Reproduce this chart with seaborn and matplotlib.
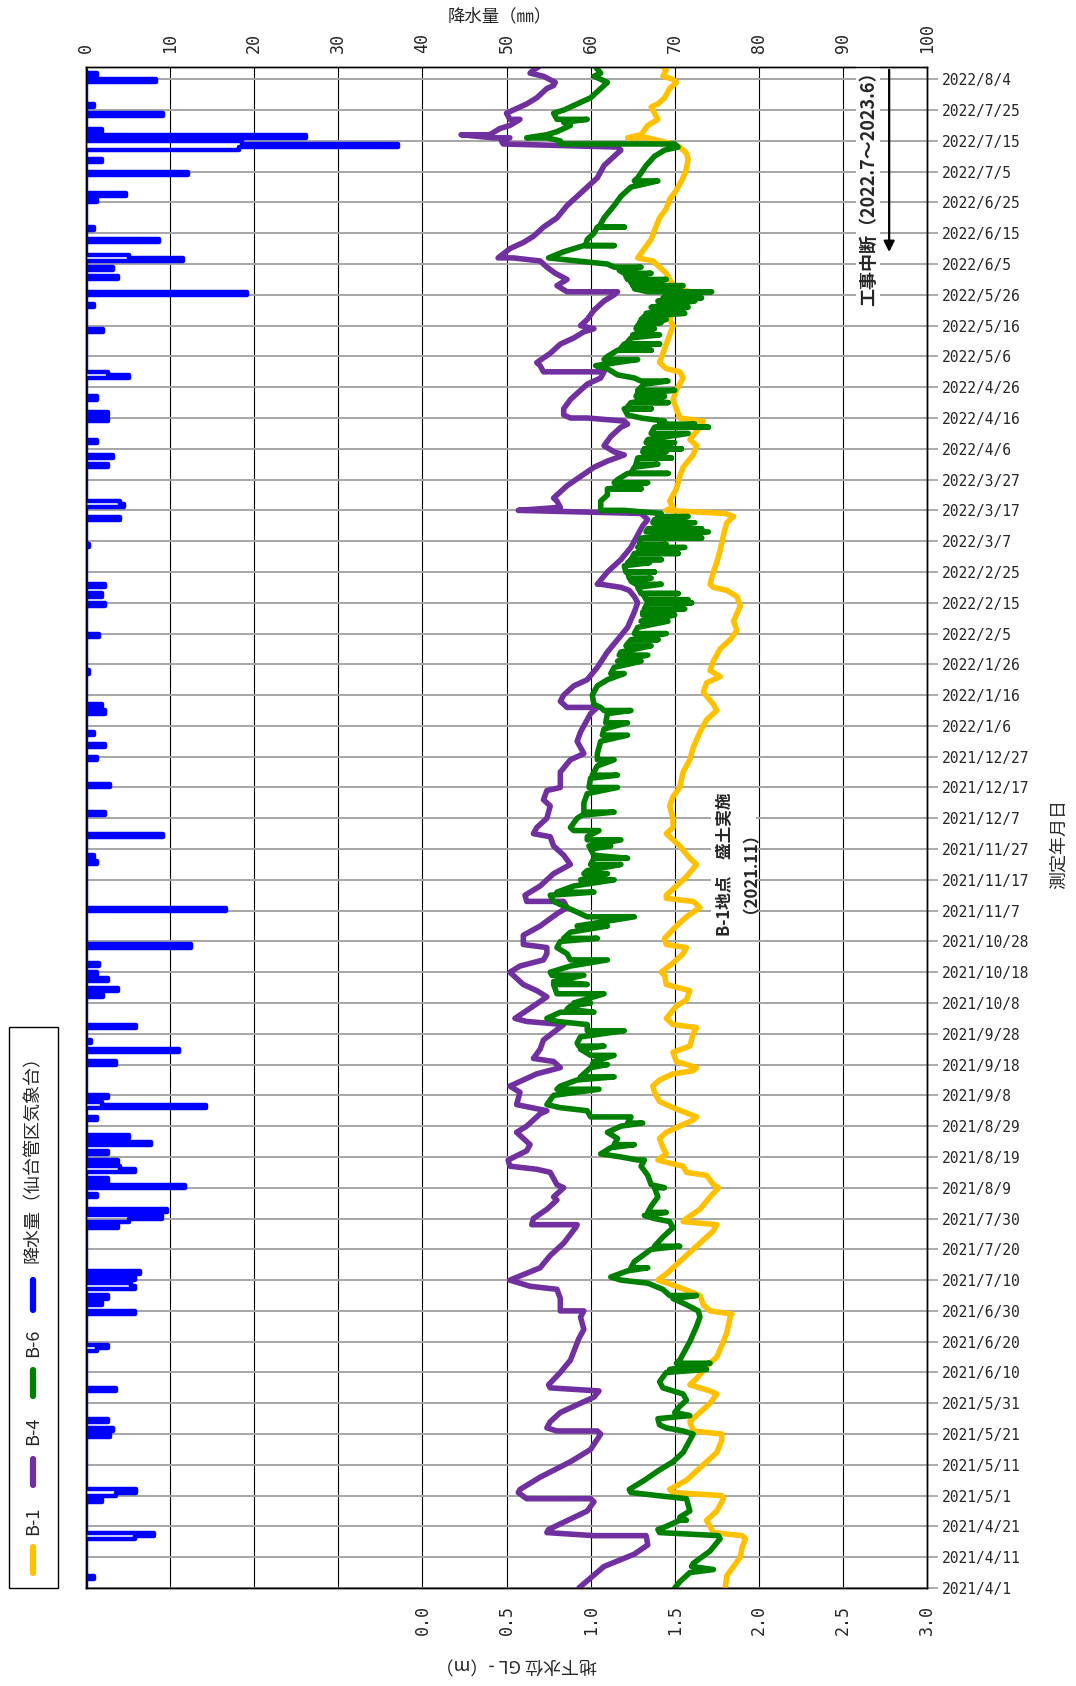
import numpy as np
import pandas as pd
import matplotlib
matplotlib.use("Agg")
import matplotlib.pyplot as plt
import matplotlib.dates as mdates
from matplotlib.lines import Line2D
from matplotlib.patches import Rectangle
import seaborn as sns

# ---------------- data (day = days after 2021/4/1) ----------------
START = "2021-04-01"

b1_points = [(0,1.80),(4,1.81),(7,1.85),(10,1.89),(13,1.90),(16,1.92),(17,1.90),(18,1.73),(20,1.71),(22,1.69),(25,1.75),(29,1.79),(30,1.78),(31,1.49),(32,1.47),(35,1.57),(40,1.67),(44,1.75),(48,1.78),(50,1.78),(51,1.61),(54,1.59),(57,1.65),(60,1.71),(63,1.75),(64,1.71),(66,1.59),(68,1.63),(72,1.69),(75,1.75),(80,1.79),(83,1.81),(88,1.83),(89,1.84),(90,1.71),(92,1.67),(95,1.65),(98,1.51),(100,1.40),(102,1.45),(104,1.49),(108,1.57),(112,1.65),(116,1.73),(118,1.75),(119,1.55),(120,1.57),(123,1.65),(127,1.71),(130,1.76),(131,1.73),(134,1.69),(135,1.57),(137,1.55),(138,1.47),(139,1.40),(141,1.45),(143,1.43),(146,1.41),(148,1.45),(152,1.61),(153,1.63),(156,1.49),(158,1.41),(161,1.38),(163,1.37),(165,1.41),(167,1.49),(168,1.61),(169,1.63),(171,1.51),(174,1.49),(176,1.59),(180,1.61),(182,1.63),(183,1.49),(185,1.45),(189,1.51),(191,1.57),(194,1.59),(196,1.45),(199,1.44),(200,1.42),(203,1.49),(206,1.55),(208,1.57),(209,1.45),(211,1.44),(215,1.51),(218,1.57),(221,1.65),(223,1.61),(224,1.45),(225,1.45),(228,1.51),(231,1.57),(235,1.63),(237,1.59),(241,1.53),(243,1.49),(245,1.45),(247,1.49),(250,1.49),(254,1.47),(257,1.49),(260,1.53),(265,1.55),(269,1.59),(273,1.61),(278,1.65),(282,1.69),(285,1.75),(287,1.73),(291,1.67),(294,1.69),(296,1.77),(298,1.71),(301,1.73),(305,1.77),(308,1.83),(311,1.87),(314,1.85),(319,1.89),(322,1.87),(324,1.81),(325,1.73),(326,1.71),(330,1.73),(333,1.75),(337,1.77),(342,1.79),(346,1.81),(348,1.85),(349,1.80),(350,1.45),(351,1.49),(353,1.47),(357,1.51),(361,1.53),(364,1.55),(368,1.61),(371,1.63),(373,1.59),(377,1.65),(379,1.67),(380,1.53),(383,1.51),(386,1.49),(389,1.51),(393,1.55),(395,1.53),(396,1.45),(398,1.41),(401,1.43),(404,1.45),(407,1.47),(410,1.49),(412,1.47),(415,1.49),(417,1.51),(419,1.55),(421,1.59),(422,1.53),(423,1.49),(425,1.47),(427,1.45),(429,1.41),(431,1.37),(432,1.28),(435,1.32),(438,1.36),(441,1.38),(445,1.41),(448,1.45),(451,1.47),(454,1.51),(458,1.55),(461,1.57),(464,1.58),(466,1.57),(468,1.53),(469,1.49),(470,1.41),(471,1.34),(471,1.22),(472,1.30),(475,1.34),(477,1.40),(479,1.38),(481,1.36),(482,1.40),(484,1.44),(487,1.47),(489,1.51),(490,1.49),(491,1.43),(493,1.45),(494,1.43)]

b4_points = [(0,0.93),(7,1.08),(11,1.26),(14,1.34),(17,1.33),(17,1.02),(18,0.74),(19,0.75),(25,0.98),(28,1.02),(29,1.00),(29,0.62),(31,0.57),(32,0.58),(36,0.70),(41,0.88),(45,1.00),(50,1.06),(51,1.04),(51,0.80),(52,0.74),(54,0.76),(57,0.82),(60,0.94),(62,1.02),(64,1.05),(65,0.76),(66,0.75),(70,0.82),(74,0.88),(81,0.93),(84,0.96),(88,0.94),(90,0.96),(90,0.82),(94,0.82),(97,0.80),(98,0.64),(100,0.52),(104,0.70),(108,0.76),(112,0.84),(117,0.91),(118,0.92),(118,0.65),(120,0.66),(123,0.74),(126,0.80),(127,0.78),(130,0.84),(131,0.80),(135,0.76),(136,0.68),(137,0.52),(139,0.51),(142,0.62),(144,0.64),(148,0.56),(150,0.62),(154,0.70),(155,0.74),(157,0.56),(161,0.58),(163,0.52),(167,0.68),(169,0.82),(171,0.78),(172,0.66),(175,0.70),(178,0.72),(183,0.84),(184,0.62),(185,0.55),(189,0.66),(192,0.74),(194,0.68),(196,0.60),(200,0.52),(202,0.58),(204,0.72),(206,0.74),(208,0.74),(209,0.60),(212,0.60),(215,0.70),(219,0.80),(221,0.86),(223,0.84),(223,0.62),(225,0.61),(228,0.70),(232,0.78),(235,0.88),(238,0.84),(241,0.78),(244,0.76),(245,0.66),(247,0.68),(250,0.74),(254,0.76),(256,0.72),(259,0.74),(260,0.82),(265,0.82),(269,0.88),(271,0.96),(273,0.94),(275,0.92),(278,0.94),(280,0.96),(284,1.00),(285,1.02),(286,1.04),(286,0.86),(288,0.82),(290,0.84),(293,0.90),(295,0.98),(299,1.04),(304,1.10),(308,1.16),(312,1.22),(317,1.26),(320,1.28),(322,1.26),(324,1.23),(325,1.18),(326,1.06),(326,1.04),(330,1.10),(334,1.18),(338,1.24),(342,1.28),(345,1.31),(347,1.34),(349,1.30),(350,0.57),(351,0.82),(353,0.80),(354,0.78),(358,0.86),(361,0.94),(364,1.02),(366,1.10),(368,1.20),(369,1.14),(371,1.08),(374,1.12),(377,1.18),(378,1.22),(379,1.20),(380,0.98),(380,0.88),(381,0.84),(383,0.84),(386,0.88),(388,0.92),(391,0.98),(393,1.06),(395,1.08),(395,0.72),(397,0.70),(398,0.68),(401,0.76),(404,0.82),(406,0.90),(408,0.96),(409,1.02),(410,0.94),(412,0.98),(415,1.02),(418,1.08),(420,1.14),(421,1.16),(421,0.86),(423,0.80),(425,0.86),(427,0.79),(429,0.74),(431,0.70),(432,0.54),(432,0.45),(435,0.52),(437,0.60),(439,0.66),(442,0.72),(445,0.80),(449,0.86),(452,0.92),(455,0.98),(458,1.04),(462,1.08),(465,1.14),(467,1.18),(468,1.16),(469,0.48),(470,0.47),(471,0.52),(471,0.42),(472,0.23),(472,0.40),(474,0.46),(475,0.52),(477,0.58),(477,0.52),(479,0.50),(480,0.54),(482,0.62),(484,0.68),(487,0.74),(488,0.78),(489,0.79),(491,0.72),(492,0.64),(493,0.66),(494,0.69)]

b6_points = [(0,1.50),(2,1.53),(5,1.59),(6,1.73),(7,1.60),(8,1.61),(12,1.71),(16,1.77),(17,1.76),(18,1.41),(19,1.40),(20,1.45),(22,1.53),(22,1.57),(23,1.53),(25,1.59),(29,1.57),(30,1.40),(31,1.24),(32,1.23),(35,1.32),(38,1.40),(41,1.49),(44,1.55),(48,1.59),(50,1.61),(51,1.55),(52,1.45),(53,1.41),(55,1.40),(56,1.59),(57,1.50),(59,1.53),(61,1.57),(63,1.55),(65,1.43),(67,1.41),(70,1.45),(71,1.69),(71,1.47),(73,1.71),(73,1.51),(74,1.53),(80,1.59),(85,1.63),(88,1.65),(90,1.64),(92,1.57),(94,1.49),(95,1.63),(95,1.47),(97,1.43),(99,1.34),(100,1.18),(101,1.12),(103,1.22),(104,1.34),(104,1.24),(106,1.26),(110,1.36),(111,1.53),(111,1.38),(114,1.43),(117,1.49),(119,1.47),(120,1.38),(121,1.32),(122,1.45),(122,1.34),(124,1.36),(127,1.40),(130,1.38),(130,1.44),(131,1.36),(134,1.34),(137,1.30),(139,1.32),(139,1.28),(140,1.18),(141,1.06),(143,1.12),(144,1.26),(144,1.14),(146,1.16),(148,1.10),(150,1.18),(151,1.31),(151,1.22),(153,1.24),(153,1.00),(155,0.98),(156,0.82),(157,0.74),(160,0.78),(162,1.05),(162,0.80),(163,0.82),(165,0.92),(166,1.14),(166,0.94),(169,1.00),(170,1.10),(170,1.01),(171,1.02),(173,1.14),(173,1.00),(175,0.94),(176,1.08),(176,0.93),(177,0.92),(179,0.94),(181,1.20),(181,0.98),(183,0.98),(184,0.80),(185,0.74),(187,0.82),(187,1.02),(188,0.86),(189,0.88),(190,1.00),(190,0.90),(193,1.08),(193,0.80),(196,0.78),(196,0.98),(197,0.78),(199,0.96),(199,0.77),(200,0.76),(202,0.88),(204,1.10),(204,0.88),(206,0.86),(208,0.80),(210,0.82),(211,1.04),(211,0.84),(213,0.88),(215,1.10),(215,0.92),(218,1.26),(218,0.98),(220,0.90),(223,0.78),(225,0.76),(226,1.02),(226,0.80),(228,0.90),(230,1.14),(230,0.94),(232,1.10),(232,0.96),(233,0.98),(235,1.18),(235,1.00),(237,1.02),(237,1.22),(238,1.02),(240,1.00),(241,1.12),(241,0.99),(243,1.18),(243,0.98),(244,0.98),(246,1.05),(246,0.90),(247,0.88),(250,0.92),(251,0.95),(252,1.14),(252,0.96),(255,0.96),(258,0.98),(260,1.16),(260,0.99),(263,1.00),(264,1.16),(264,1.01),(267,1.04),(269,1.14),(269,1.04),(271,1.04),(275,1.06),(277,1.22),(277,1.07),(279,1.08),(281,1.22),(281,1.09),(284,1.10),(285,1.24),(285,1.08),(286,1.06),(287,1.02),(290,1.01),(293,1.04),(295,1.10),(297,1.20),(297,1.12),(299,1.14),(301,1.30),(301,1.16),(303,1.34),(303,1.17),(304,1.18),(306,1.36),(306,1.21),(308,1.24),(308,1.40),(308,1.25),(310,1.45),(310,1.26),(312,1.28),(314,1.46),(314,1.30),(316,1.50),(316,1.31),(317,1.31),(318,1.56),(318,1.32),(320,1.34),(320,1.60),(320,1.34),(321,1.58),(321,1.33),(323,1.31),(323,1.52),(323,1.30),(325,1.28),(326,1.42),(326,1.27),(327,1.24),(328,1.36),(328,1.23),(330,1.22),(330,1.38),(330,1.21),(332,1.20),(333,1.35),(333,1.22),(334,1.24),(334,1.42),(334,1.24),(336,1.26),(336,1.52),(336,1.27),(338,1.56),(338,1.28),(339,1.45),(339,1.29),(341,1.30),(341,1.66),(341,1.32),(343,1.70),(343,1.33),(344,1.34),(344,1.66),(344,1.35),(346,1.62),(346,1.37),(347,1.38),(348,1.58),(348,1.40),(349,1.42),(350,1.20),(350,1.06),(353,1.06),(355,1.10),(357,1.10),(357,1.30),(357,1.11),(359,1.34),(359,1.14),(360,1.16),(362,1.22),(362,1.46),(362,1.24),(364,1.26),(365,1.40),(365,1.27),(367,1.28),(367,1.48),(367,1.29),(369,1.45),(369,1.31),(370,1.32),(370,1.54),(370,1.32),(372,1.50),(372,1.33),(373,1.34),(375,1.58),(375,1.36),(377,1.38),(377,1.70),(377,1.39),(378,1.62),(378,1.41),(379,1.44),(380,1.30),(381,1.22),(383,1.20),(383,1.36),(383,1.21),(385,1.24),(385,1.46),(385,1.25),(387,1.44),(387,1.27),(388,1.28),(389,1.50),(389,1.28),(391,1.32),(392,1.46),(392,1.30),(393,1.26),(394,1.16),(396,1.10),(397,1.03),(399,1.28),(399,1.08),(400,1.10),(402,1.16),(402,1.36),(402,1.17),(404,1.20),(404,1.41),(404,1.21),(406,1.24),(407,1.41),(407,1.25),(409,1.38),(409,1.27),(410,1.28),(411,1.42),(411,1.29),(412,1.45),(412,1.30),(413,1.32),(414,1.56),(414,1.33),(416,1.58),(416,1.36),(418,1.62),(418,1.40),(419,1.66),(419,1.43),(420,1.46),(421,1.72),(421,1.34),(422,1.26),(423,1.55),(423,1.25),(424,1.25),(424,1.42),(424,1.24),(425,1.45),(425,1.22),(426,1.21),(427,1.36),(427,1.20),(428,1.17),(429,1.30),(429,1.14),(430,1.10),(431,0.92),(432,0.75),(434,0.84),(436,0.96),(436,1.14),(436,0.97),(438,0.98),(440,1.02),(442,1.04),(442,1.20),(442,1.05),(445,1.08),(449,1.14),(452,1.18),(455,1.24),(457,1.40),(457,1.26),(458,1.28),(462,1.33),(465,1.38),(467,1.44),(468,1.52),(469,1.50),(469,0.82),(470,0.82),(471,0.74),(471,0.62),(472,0.74),(473,0.80),(475,0.88),(476,0.84),(477,0.98),(477,0.80),(479,0.78),(480,0.84),(482,0.92),(484,1.00),(487,1.06),(489,1.10),(490,1.06),(491,1.02),(492,1.06),(494,1.03)]

# daily precipitation (mm); days not listed had no rain
rain_points = [(4,1.0),(17,5.8),(18,8.1),(29,1.9),(31,3.6),(32,6.0),(50,2.8),(52,3.2),(55,2.6),(65,3.6),(78,1.3),(79,2.6),(90,5.8),(93,1.9),(95,2.6),(98,5.8),(99,5.4),(101,5.8),(103,6.4),(118,3.8),(120,5.1),(121,9.0),(123,9.6),(128,1.3),(131,11.8),(133,2.6),(136,5.8),(137,4.1),(139,3.8),(142,2.6),(145,7.7),(147,5.1),(153,1.3),(157,14.3),(158,1.9),(160,2.6),(171,3.6),(175,11.1),(178,0.6),(183,6.0),(193,2.0),(195,3.8),(198,2.6),(200,1.3),(203,1.5),(209,12.5),(221,16.6),(236,1.3),(238,1.0),(245,9.2),(252,2.2),(261,2.8),(270,1.3),(274,2.2),(278,0.9),(285,2.3),(287,1.9),(298,0.4),(310,1.5),(320,2.2),(323,1.9),(326,2.2),(339,0.4),(348,4.1),(352,4.5),(353,4.1),(365,2.6),(368,3.2),(373,1.3),(380,2.6),(382,2.6),(387,1.3),(394,5.1),(395,2.6),(409,2.0),(417,1.0),(421,19.2),(426,3.8),(429,3.2),(432,11.5),(433,5.1),(438,8.7),(442,0.9),(451,1.3),(453,4.7),(460,12.1),(464,1.9),(468,18.2),(469,37.1),(470,18.5),(472,26.2),(474,1.9),(479,9.2),(482,1.0),(490,8.3),(492,1.3)]

series_names = ["B-1", "B-4", "B-6"]
series_colors = ["#FFC000", "#7030A0", "#008000"]
rain_name = "降水量（仙台管区気象台）"
rain_color = "#0000FF"

precip_ticks = list(range(0, 101, 10))
gw_ticks = [0.0, 0.5, 1.0, 1.5, 2.0, 2.5, 3.0]
date_tick_start, date_tick_end = "2021-04-01", "2022-08-04"

# ---------------- style ----------------
sns.set_style("white")
plt.rcParams["font.family"] = ["Noto Sans CJK JP", "DejaVu Sans"]
MONO = ["DejaVu Sans Mono", "DejaVu Sans"]

base = pd.Timestamp(START)
def to_dates(days):
    return base + pd.to_timedelta(np.asarray(days, dtype=float), unit="D")
def ynum(d):
    return mdates.date2num(base + pd.Timedelta(days=d))

W, H = 1076, 1686
fig = plt.figure(figsize=(W / 100, H / 100), dpi=100)
ax = fig.add_axes([86 / W, 98 / H, 841 / W, 1521 / H])

# precipitation (daily values, drawn as a stepped line)
n_days = 494
rain_daily = np.zeros(n_days)
for d, v in rain_points:
    rain_daily[d] = v
rain_df = pd.DataFrame({"date": to_dates(np.arange(n_days)), "mm": rain_daily})
sns.lineplot(data=rain_df, x="mm", y="date", sort=False, estimator=None,
             color=rain_color, lw=3.2, drawstyle="steps-post", ax=ax, legend=False)
ax.set_xlim(0, 100)
ax.set_ylim(ynum(0), ynum(494))

ax2 = ax.twiny()
for pts, name, col in zip([b1_points, b4_points, b6_points], series_names, series_colors):
    days, lev = zip(*pts)
    df = pd.DataFrame({"date": to_dates(days), "level": lev})
    sns.lineplot(data=df, x="level", y="date", sort=False, estimator=None,
                 color=col, lw=4.0, ax=ax2, legend=False)
ax2.set_xlim(-2, 3)
ax.set_ylim(ynum(0), ynum(494))

# axes & ticks
ax.xaxis.tick_top()
ax.set_xticks(precip_ticks)
ax.set_xticklabels([str(v) for v in precip_ticks], rotation=90, fontsize=12, family=MONO)
ax.tick_params(axis="x", length=0, pad=10, top=True, bottom=False,
               labeltop=True, labelbottom=False)
ax2.xaxis.tick_bottom()
ax2.set_xticks(gw_ticks)
ax2.set_xticklabels([f"{v:.1f}" for v in gw_ticks], rotation=90, fontsize=12, family=MONO)
ax2.tick_params(axis="x", length=0, pad=12, top=False, bottom=True,
                labeltop=False, labelbottom=True)

ticks = pd.date_range(date_tick_start, date_tick_end, freq="10D")
ax.set_yticks(mdates.date2num(ticks.to_pydatetime()))
ax.set_yticklabels([f"{t.year}/{t.month}/{t.day}" for t in ticks], fontsize=10.5, family=MONO)
ax.yaxis.tick_right()
ax.tick_params(axis="y", length=8, width=1.3, color="#A6A6A6", pad=3,
               right=True, left=False)
ax.grid(axis="y", color="#A6A6A6", lw=1.4)
ax.grid(axis="x", color="black", lw=0.8)
for a in (ax, ax2):
    a.set_xlabel("")
    a.set_ylabel("")
    for s in a.spines.values():
        s.set_color("black")
        s.set_linewidth(1.0)

# annotations
ax.annotate("", xy=(95.5, ynum(433)), xytext=(95.5, ynum(494)),
            arrowprops=dict(arrowstyle="-|>", color="black", lw=1.6, mutation_scale=16),
            zorder=6)
ax.text(93.0, ynum(456), "工事中断（2022.7～2023.6）", rotation=90, ha="center",
        va="center", fontsize=13, fontweight="bold", zorder=6,
        bbox=dict(fc="white", ec="none", pad=2))
ax.text(77.0, ynum(235), "B-1地点　盛土実施\n（2021.11）", rotation=90, ha="center",
        va="center", ma="center", fontsize=12, fontweight="bold", linespacing=1.0,
        zorder=6, bbox=dict(fc="white", ec="none", pad=3))

# titles
fig.text(500 / W, 1 - 16 / H, "降水量（㎜）", ha="center", va="center", fontsize=12.5)
fig.text(516 / W, 1 - 1664 / H, "地下水位 GL -（m）", ha="center", va="center",
         rotation=180, fontsize=13)
fig.text(1059 / W, 1 - 844 / H, "測定年月日", ha="center", va="center",
         rotation=90, fontsize=13)

# legend (rotated, drawn by hand)
fig.add_artist(Rectangle((8.6 / W, 98 / H), 49.4 / W, 561 / H, transform=fig.transFigure,
                         fill=False, ec="black", lw=1.0))
leg_x = 33 / W
leg_entries = [
    (series_names[0], series_colors[0], (1547, 1573), 1521),
    (series_names[1], series_colors[1], (1459, 1485), 1431),
    (series_names[2], series_colors[2], (1370, 1396), 1343),
    (rain_name, rain_color, (1280, 1310), 1155),
]
for name, col, (ya, yb), yt in leg_entries:
    fig.add_artist(Line2D([leg_x, leg_x], [1 - ya / H, 1 - yb / H], transform=fig.transFigure,
                          color=col, lw=4.5, solid_capstyle="round"))
    fig.text(leg_x, 1 - yt / H, name, rotation=90, ha="center", va="center", fontsize=13)

fig.savefig("out.png", dpi=100)
